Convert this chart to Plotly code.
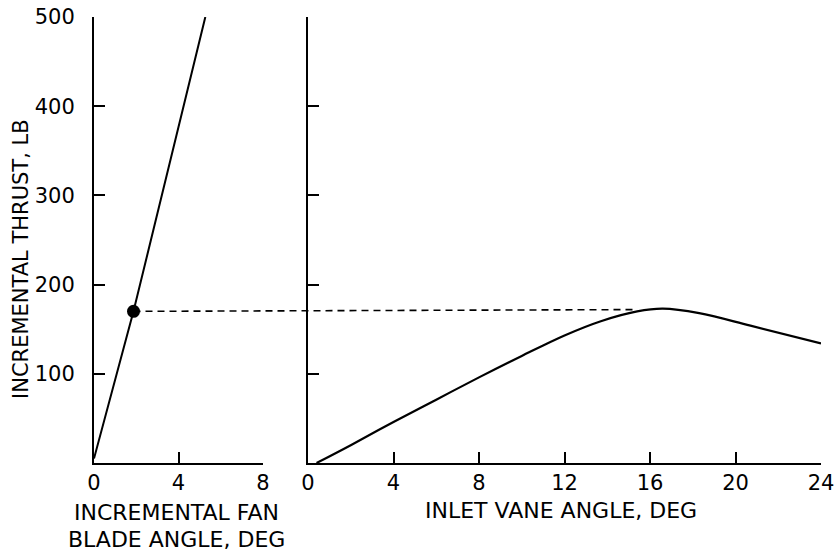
import plotly.graph_objects as go

# Left panel: incremental thrust vs incremental fan blade angle
fan_angle = [0.0, 1.87, 5.27]
fan_thrust = [5, 170, 500]

# Operating point marked on the fan-blade line
point_angle = [1.87]
point_thrust = [170]

# Right panel: incremental thrust vs inlet vane angle
vane_angle = [0.4, 2, 4, 6, 8, 10, 12, 13.7, 15.4, 16.6, 18.3, 20.7, 24]
vane_thrust = [0, 20, 46, 71, 96, 120, 143, 159, 170, 173, 168, 154, 134]

# Where the dashed transfer line meets the vane curve
peak_angle = 15.4
peak_thrust = 172

left_x_ticks = [0, 4, 8]
right_x_ticks = [0, 4, 8, 12, 16, 20, 24]
y_ticks = [100, 200, 300, 400, 500]

FONT = "DejaVu Sans"
W, H = 840, 554
TOP, BOTTOM = 17, 91
PLOT_H = H - TOP - BOTTOM
left_dom = [94 / W, 263 / W]
right_dom = [308 / W, 821 / W]
left_range = [0, 8]
right_range = [0, 24]
y_range = [0, 500]

fig = go.Figure()

fig.add_trace(go.Scatter(x=fan_angle, y=fan_thrust, mode="lines",
                         line=dict(color="black", width=2),
                         xaxis="x", yaxis="y", showlegend=False,
                         cliponaxis=False))
fig.add_trace(go.Scatter(x=point_angle, y=point_thrust, mode="markers",
                         marker=dict(color="black", size=13),
                         xaxis="x", yaxis="y", showlegend=False,
                         cliponaxis=False))
fig.add_trace(go.Scatter(x=vane_angle, y=vane_thrust, mode="lines",
                         line=dict(color="black", width=2.2, shape="spline",
                                   smoothing=1.0),
                         xaxis="x2", yaxis="y2", showlegend=False,
                         cliponaxis=False))


def to_paper(v, dom, rng):
    return dom[0] + (v - rng[0]) / (rng[1] - rng[0]) * (dom[1] - dom[0])


def py(pix):
    # vertical pixel position (from top of page) -> paper y
    return (H - BOTTOM - pix) / PLOT_H


# Dashed line spanning both panels, from the marked point to the vane curve
fig.add_shape(type="line", xref="paper", yref="y",
              x0=to_paper(point_angle[0], left_dom, left_range), y0=point_thrust[0],
              x1=to_paper(peak_angle, right_dom, right_range), y1=peak_thrust,
              line=dict(color="black", width=1.6, dash="7px,5px"))

axis_common = dict(showgrid=False, zeroline=False, showline=True,
                   linecolor="black", linewidth=2, ticks="inside",
                   tickcolor="black", tickwidth=2, ticklen=11,
                   tickfont=dict(family=FONT, size=21, color="black"),
                   automargin=False, fixedrange=True)

fig.update_layout(
    width=W, height=H,
    margin=dict(l=0, r=0, t=TOP, b=BOTTOM),
    paper_bgcolor="white", plot_bgcolor="white",
    xaxis=dict(domain=left_dom, range=left_range, tickvals=left_x_ticks,
               anchor="y", ticklabelstandoff=0, **axis_common),
    yaxis=dict(domain=[0, 1], range=y_range, tickvals=y_ticks,
               anchor="x", ticklabelstandoff=13, **axis_common),
    xaxis2=dict(domain=right_dom, range=right_range, tickvals=right_x_ticks,
                anchor="y2", ticklabelstandoff=0, **axis_common),
    yaxis2=dict(domain=[0, 1], range=y_range, tickvals=y_ticks,
                anchor="x2", showticklabels=False, **axis_common),
)

title_font = dict(family=FONT, size=22, color="black")
fig.add_annotation(text="INCREMENTAL THRUST, LB", xref="paper", yref="paper",
                   x=21 / W, y=py(259), textangle=-90, showarrow=False,
                   font=dict(family=FONT, size=21, color="black"),
                   xanchor="center", yanchor="middle")
fig.add_annotation(text="INCREMENTAL FAN", xref="paper", yref="paper",
                   x=176 / W, y=py(512), showarrow=False,
                   font=title_font, xanchor="center", yanchor="middle")
fig.add_annotation(text="BLADE ANGLE, DEG", xref="paper", yref="paper",
                   x=176 / W, y=py(539), showarrow=False,
                   font=title_font, xanchor="center", yanchor="middle")
fig.add_annotation(text="INLET VANE ANGLE, DEG", xref="paper", yref="paper",
                   x=561 / W, y=py(510), showarrow=False,
                   font=title_font, xanchor="center", yanchor="middle")

fig.write_html("out.html")
